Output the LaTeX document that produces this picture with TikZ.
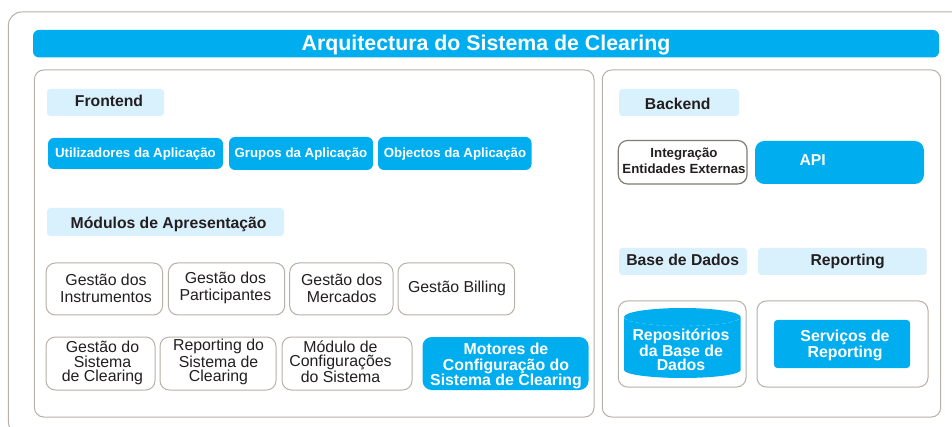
\documentclass[tikz,border=0pt]{standalone}
\usepackage{fontspec}
\setmainfont{Liberation Sans}
\definecolor{cblue}{HTML}{00AEEF}
\definecolor{clight}{HTML}{D9F1FC}
\definecolor{cline}{HTML}{B8B0A6}
\definecolor{ctext}{HTML}{231F20}
\tikzset{
  x=0.75pt,y=-0.75pt,
  basebox/.style={inner sep=0pt,outer sep=0pt,rectangle},
  panel/.style={basebox,draw=cline,line width=0.75pt,fill=white,rounded corners=7pt},
  bluebox/.style={basebox,fill=cblue,rounded corners=4.5pt},
  bigblue/.style={basebox,fill=cblue,rounded corners=7pt},
  tightblue/.style={basebox,fill=cblue,rounded corners=2.5pt},
  headbox/.style={basebox,fill=clight,rounded corners=2.5pt},
  modbox/.style={basebox,draw=cline,line width=0.75pt,fill=white,rounded corners=7pt},
  darkbox/.style={basebox,draw=cline!70!black,line width=0.9pt,fill=white,rounded corners=7pt},
  lbl/.style={inner sep=0pt,outer sep=0pt,align=center,text=ctext},
  head/.style={lbl,font=\bfseries\fontsize{11.8}{13}\selectfont},
  reg/.style={lbl,font=\fontsize{11.9}{#1}\selectfont},
  whitebold/.style={lbl,text=white,font=\bfseries\fontsize{11.9}{#1}\selectfont},
  small/.style={lbl,font=\bfseries\fontsize{9.95}{11.6}\selectfont},
  whitesmall/.style={lbl,text=white,font=\bfseries\fontsize{9.95}{12}\selectfont},
}
\newcommand{\bx}[6]{\node[#1,minimum width={(#5-#3)*0.75pt},minimum height={(#6-#4)*0.75pt}] (#2) at ({(#3+#5)/2},{(#4+#6)/2}) {};}
\newcommand{\tx}[5]{\node[#1] (#2) at (#3,#4) {#5};}
\begin{document}
\begin{tikzpicture}
\useasboundingbox (0,0) rectangle (952,427);
\fill[white] (0,0) rectangle (952,427);
\clip (0,0) rectangle (952,427);
\draw[draw=cline,line width=0.75pt,rounded corners=10pt] (8.4,12) rectangle (985,435);
% title
\bx{bluebox}{title}{33}{30}{939}{57.5}
\tx{lbl,text=white,font=\bfseries\fontsize{16}{18}\selectfont}{titlet}{486}{45}{Arquitectura do Sistema de Clearing}
% panels
\bx{panel}{left}{34.4}{70}{594}{417}
\bx{panel}{right}{602.3}{70}{940.7}{417}
% frontend
\bx{headbox}{fronth}{47}{89}{164}{116}
\tx{head}{fronthT}{109}{101.2}{Frontend}
\bx{bluebox}{uti}{48}{138}{223}{169}
\tx{whitesmall}{utiT}{135.5}{154}{Utilizadores da Aplicação}
\bx{bluebox}{gru}{229}{137}{373}{170}
\tx{whitesmall}{gruT}{301}{154}{Grupos da Aplicação}
\bx{bluebox}{obj}{378}{137}{531.5}{170}
\tx{whitesmall}{objT}{455}{154}{Objectos da Aplicação}
% modulos
\bx{headbox}{modh}{47}{208}{284}{236}
\tx{head}{modhT}{168.6}{224}{Módulos de Apresentação}
\bx{modbox}{m1}{46}{263}{162.6}{315}
\tx{reg=12.9}{m1T}{106}{288}{Gestão dos\\Instrumentos}
\bx{modbox}{m2}{168.4}{263}{284.7}{315}
\tx{reg=12.9}{m2T}{225.4}{288}{Gestão dos\\Participantes}
\bx{modbox}{m3}{289.7}{263}{393}{315}
\tx{reg=12.9}{m3T}{341.7}{288}{Gestão dos\\Mercados}
\bx{modbox}{m4}{398}{263}{514.7}{315}
\tx{reg=12.9}{m4T}{457}{288}{Gestão Billing}
\bx{modbox}{m5}{46}{337}{155}{390}
\tx{reg=10.7}{m5T}{102.5}{363}{Gestão do\\Sistema\\de Clearing}
\bx{modbox}{m6}{160}{337}{276}{390}
\tx{reg=10.7}{m6T}{218.5}{362}{Reporting do\\Sistema de\\Clearing}
\bx{modbox}{m7}{282}{337}{412}{390}
\tx{reg=10.7}{m7T}{340.5}{362}{Módulo de\\Configurações\\do Sistema}
\bx{bigblue}{m8}{422.5}{337}{588.6}{390}
\tx{whitebold=11.4}{m8T}{506}{366}{Motores de\\Configuração do\\Sistema de Clearing}
% backend
\bx{headbox}{backh}{619}{89}{739}{116}
\tx{head}{backhT}{677.7}{103.5}{Backend}
\bx{darkbox}{ent}{618.3}{140.5}{747}{184}
\tx{small}{entT}{684}{161}{Integração\\Entidades Externas}
\bx{bigblue}{api}{755}{141}{924}{184}
\tx{lbl,text=white,font=\bfseries\fontsize{11.8}{13}\selectfont}{apiT}{812.7}{160}{API}
\bx{headbox}{dbh}{619}{248}{747}{275}
\tx{head}{dbhT}{682.7}{260}{Base de Dados}
\bx{headbox}{reph}{758}{248}{926.7}{275}
\tx{head}{rephT}{847.7}{261}{Reporting}
\bx{modbox}{dbbox}{618.3}{301}{746}{387}
\bx{modbox}{repbox}{757}{301}{928}{387}
% cylinder
\fill[cblue] (624,317) arc[start angle=180,end angle=360,x radius=58.35,y radius=9]
  -- (740.7,370) arc[start angle=0,end angle=180,x radius=58.35,y radius=8] -- cycle;
\draw[white!45!cblue,line width=0.25pt,densely dashed] (624,317) arc[start angle=180,end angle=0,x radius=58.35,y radius=9];
\tx{whitebold=10.4}{cylT}{681}{350}{Repositórios\\da Base de\\Dados}
\bx{tightblue}{serv}{774}{320}{910}{368}
\tx{whitebold=12}{servT}{845}{345}{Serviços de\\Reporting}
\end{tikzpicture}
\end{document}
